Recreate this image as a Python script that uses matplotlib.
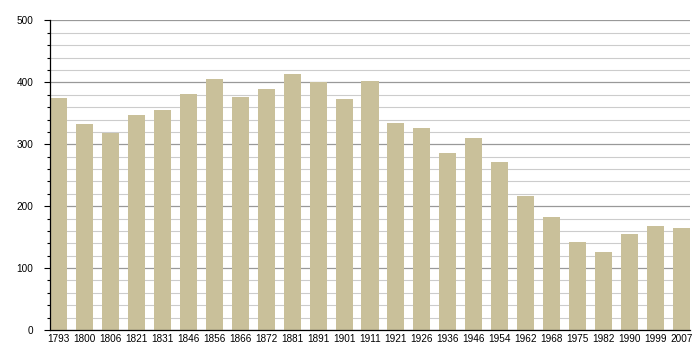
import matplotlib
matplotlib.use("Agg")
import matplotlib.pyplot as plt
import numpy as np

years = ["1793", "1800", "1806", "1821", "1831", "1846", "1856", "1866", "1872",
         "1881", "1891", "1901", "1911", "1921", "1926", "1936", "1946", "1954",
         "1962", "1968", "1975", "1982", "1990", "1999", "2007"]
population = [375, 333, 318, 347, 355, 381, 405, 376, 389,
              413, 400, 373, 402, 334, 326, 286, 310, 271,
              216, 182, 142, 126, 155, 168, 165]

plt.rcParams["font.family"] = ["Liberation Sans", "DejaVu Sans"]

fig = plt.figure(figsize=(7, 3.6), dpi=100)
ax = fig.add_axes([50 / 700, 30 / 360, 640 / 700, 309.5 / 360])

x = np.arange(len(years))
bar_w = 0.656
ax.bar(x, population, width=bar_w, color="#c9c09a", zorder=3)

ax.set_xlim(-bar_w / 2, len(years) - 1 + bar_w / 2)
ax.set_ylim(0, 500)
ax.set_xticks(x)
ax.set_xticklabels(years, fontsize=7.2)
ax.set_yticks(np.arange(0, 501, 100))
ax.set_yticks(np.arange(0, 501, 20), minor=True)
ax.tick_params(axis="y", labelsize=7.2, length=4, width=0.8, direction="out", pad=8)
ax.tick_params(axis="y", which="minor", length=2, width=0.8)
ax.tick_params(axis="x", length=0, pad=3)

ax.grid(axis="y", which="major", color="#999999", linewidth=0.9, zorder=0)
ax.grid(axis="y", which="minor", color="#cccccc", linewidth=0.8, zorder=0)

for side in ["top", "right"]:
    ax.spines[side].set_visible(False)
ax.spines["left"].set_linewidth(0.9)
ax.spines["bottom"].set_linewidth(0.9)
ax.spines["left"].set_zorder(4)
ax.spines["bottom"].set_zorder(4)

fig.savefig("out.png", dpi=100)
